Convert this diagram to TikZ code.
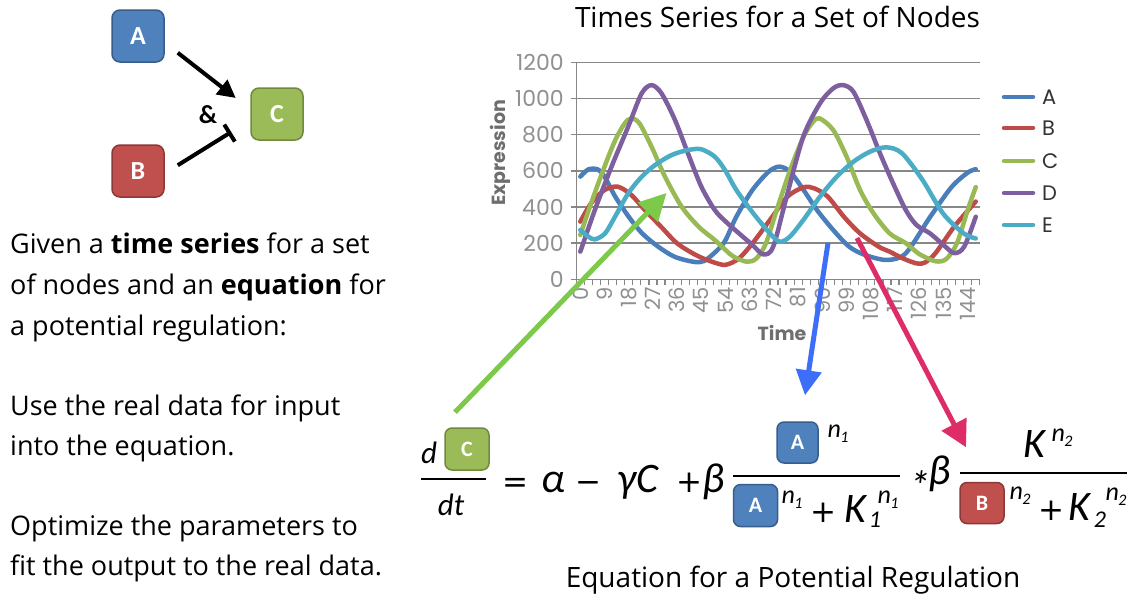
\documentclass[tikz,border=0pt]{standalone}
\usepackage{fontspec}
\setmainfont{Open Sans}
\newfontfamily\chartfont{Poppins}
\newfontfamily\eqfont{Carlito}
\newfontfamily\opfont{DejaVu Sans}
\usetikzlibrary{arrows.meta}
\definecolor{nA}{HTML}{4F81BD}\definecolor{nAd}{HTML}{385D8A}
\definecolor{nB}{HTML}{C0504D}\definecolor{nBd}{HTML}{8C3836}
\definecolor{nC}{HTML}{9BBB59}\definecolor{nCd}{HTML}{71893F}
\definecolor{sA}{HTML}{4A7EBB}
\definecolor{sB}{HTML}{BE4B48}
\definecolor{sC}{HTML}{98B954}
\definecolor{sD}{HTML}{7D5FA0}
\definecolor{sE}{HTML}{4BACC6}
\definecolor{gridc}{HTML}{878787}
\definecolor{labc}{HTML}{909090}
\definecolor{axlab}{HTML}{6E6E6E}
\definecolor{legc}{HTML}{333333}
\definecolor{arG}{HTML}{7DC94A}
\definecolor{arB}{HTML}{3D6EFA}
\definecolor{arP}{HTML}{DE2C66}
\newcommand\mynsub[1]{n\kern-0.5pt\raisebox{-5pt}{\fontsize{16}{16}\selectfont #1}}
\tikzset{
  netbox/.style={rounded corners=8pt, minimum size=52pt, draw, line width=1.5pt,
    font=\eqfont\bfseries\fontsize{26}{26}\selectfont, text=white, inner sep=0pt},
  eqbox/.style={rounded corners=7pt, draw, line width=1.5pt, minimum width=44pt, minimum height=42pt,
    font=\eqfont\bfseries\fontsize{22}{22}\selectfont, text=white, inner sep=0pt},
  actarrow/.style={line width=4pt, -{Triangle[length=18pt,width=18pt]}},
  inharrow/.style={line width=4pt, -{Bar[width=20pt]}},
  bigarrow/.style={line width=5pt, -{Triangle[length=27pt,width=27pt]}},
  body/.style={font=\fontsize{27}{27}\selectfont, anchor=base west, inner sep=0pt},
  ylab/.style={font=\chartfont\fontsize{22}{22}\selectfont, text=labc, anchor=east, inner sep=0pt},
  xlab/.style={font=\chartfont\fontsize{21}{21}\selectfont, text=labc, anchor=east, rotate=90, inner sep=0pt},
  legl/.style={line width=4.5pt, line cap=round},
  legt/.style={font=\chartfont\fontsize{21}{21}\selectfont, text=legc, anchor=west, inner sep=0pt},
  series/.style={line width=4.5pt, line join=round, line cap=round},
  eqt/.style={font=\eqfont\itshape\fontsize{42}{42}\selectfont, inner sep=0pt, anchor=base},
  eqop/.style={font=\opfont\fontsize{31}{31}\selectfont, inner sep=0pt, anchor=base},
  eqs/.style={font=\eqfont\itshape\fontsize{31}{31}\selectfont, inner sep=0pt, anchor=base},
  sup/.style={font=\eqfont\itshape\fontsize{26}{26}\selectfont, inner sep=0pt, anchor=base},
  subs/.style={font=\eqfont\itshape\fontsize{24}{24}\selectfont, inner sep=0pt, anchor=base},
  heading/.style={font=\fontsize{28}{28}\selectfont, anchor=base, inner sep=0pt}
}
\begin{document}
\begin{tikzpicture}[x=1pt,y=-1pt]
\useasboundingbox (0,0) rectangle (1140,595);
\fill[white] (0,0) rectangle (1140,595);

% ---------- network ----------
\node[netbox, fill=nA, draw=nAd] (A) at (138,36) {A};
\node[netbox, fill=nB, draw=nBd] (B) at (138,171) {B};
\node[netbox, fill=nC, draw=nCd] (C) at (277,114) {C};
\draw[actarrow] ([shift={(13,-10)}]A.south east) -- ([shift={(-14.5,-16)}]C.west);
\draw[inharrow] ([shift={(13,21)}]B.north east) -- ([shift={(-19,18)}]C.west);
\node[font=\eqfont\bfseries\fontsize{26}{26}\selectfont, inner sep=0pt] (amp) at (208,115) {\&};

% ---------- left text ----------
\node[body] (t1) at (10,253) {Given a \textbf{time series} for a set};
\node[body] (t2) at (10,294) {of nodes and an \textbf{equation} for};
\node[body] (t3) at (10,335) {a potential regulation:};
\node[body] (t4) at (10,415) {Use the real data for input};
\node[body] (t5) at (10,455) {into the equation.};
\node[body] (t6) at (10,535) {Optimize the parameters to};
\node[body] (t7) at (10,575) {fit the output to the real data.};

% ---------- chart ----------
\node[heading] (title) at (777.5,27) {Times Series for a Set of Nodes};
\begin{scope}[shift={(580.3,279.3)}, x=2.69pt, y=0.1808pt]
  \foreach \v in {200,400,...,1200} \draw[gridc, line width=1.5pt] (-1.5,\v) -- (148.5,\v);
  \foreach \v in {0,200,...,1200} {
    \draw[gridc, line width=1.5pt] (-3.5,\v) -- (-1.5,\v);
    \node[ylab] (yl\v) at (-6.1,\v) {\v};
  }
  \foreach \k in {0,...,50} \draw[gridc, line width=1.2pt] (-1.5+3*\k,0) -- (-1.5+3*\k,-33);
  \draw[gridc, line width=1.5pt] (-1.5,1200) -- (-1.5,0) -- (148.5,0);
  \foreach \t in {0,9,...,144} \node[xlab] (xl\t) at (\t,-42) {\t};
  % series
  \draw[series, sA] plot[smooth, tension=0.5] coordinates {(0,568) (3,608) (6.5,608) (9,568) (13,457) (18,346) (23,254) (29,180) (35,125) (42,97) (46,101) (51,162) (54,217) (58,346) (64,494) (70,595) (74,623) (78,595) (83,494) (88,383) (94,273) (100,180) (106,134) (114,107) (121,144) (130,344) (138,510) (144,590) (147,609)};
  \draw[series, sB] plot[smooth, tension=0.5] coordinates {(0,319) (4,420) (9,494) (14,512) (19,466) (24,383) (30,291) (36,199) (43,134) (49,97) (54,80) (59,116) (64,199) (70.5,328) (77,457) (83,509) (87,503) (92,457) (98,346) (104,254) (111,180) (115,153) (120,115) (125,88) (128,92) (132,144) (139,291) (147,430)};
  \draw[series, sC] plot[smooth, tension=0.5] coordinates {(0,245) (4,420) (9,623) (13,770) (16.5,862) (19,890) (22,862) (26.5,733) (31.5,567) (37.7,401) (44,291) (50,217) (54,162) (57,125) (62,97) (65.5,116) (69,199) (73,383) (78,604) (83,789) (86.6,872) (89,890) (94,826) (99,678) (104,494) (109,365) (115,254) (121,200) (126,140) (132,100) (136,112) (140,199) (144,383) (147,510)};
  \draw[series, sD] plot[smooth, tension=0.5] coordinates {(0,153) (5.4,383) (11.6,623) (17.8,844) (22.8,1028) (26.5,1074) (30.2,1028) (35.2,881) (40,697) (45,512) (50,383) (54,320) (59,254) (64,190) (68,138) (71.7,180) (76.7,457) (82.9,789) (89.1,973) (94,1056) (97.7,1074) (101.5,1038) (106.4,881) (111.4,697) (116,540) (121,383) (125,300) (130,254) (135,190) (139,145) (142.7,180) (147,346)};
  \draw[series, sE] plot[smooth, tension=0.5] coordinates {(0,273) (3,236) (5.4,221) (9.2,254) (12.9,346) (17.8,475) (22.8,567) (27.8,632) (33.9,687) (40,715) (45,719) (50,678) (53.8,604) (58,494) (64.3,365) (70.5,254) (74.2,208) (77.9,236) (82.9,328) (89.1,457) (95.3,567) (101.5,650) (107.7,706) (113.8,730) (119.6,697) (127.2,550) (134.8,365) (142.5,254) (147,226)};
\end{scope}
\node[font=\chartfont\bfseries\fontsize{19}{19}\selectfont, text=axlab, rotate=90, inner sep=0pt] (ylabel) at (500.5,153) {Expression};
\node[font=\chartfont\bfseries\fontsize{19}{19}\selectfont, text=axlab, inner sep=0pt] (xlabel) at (782,333) {Time};
% legend
\foreach \s/\y/\c in {A/97/sA, B/128/sB, C/161/sC, D/193/sD, E/225/sE} {
  \draw[legl, \c] (1004,\y) -- (1033,\y);
  \node[legt] (lg\s) at (1042,\y) {\s};
}

% ---------- equation ----------
\node[eqs] (eqd) at (429,463) {d};
\node[eqbox, fill=nC, draw=nCd] (eqC) at (467,449) {C};
\draw[line width=2pt] (421,479) -- (486,479);
\node[eqs] (eqdt) at (451,515) {dt};
\node[eqop] (eqeq) at (515,492) {=};
\node[eqt] (eqal) at (553,492) {α};
\node[eqop] (eqmi) at (588,492) {−};
\node[eqt] (eqga) at (627,492) {γ};
\node[eqt] (eqCc) at (647,492) {C};
\node[eqop] (eqpl) at (689,492) {+};
\node[eqt] (eqbe) at (714,492) {β};
\draw[line width=2pt] (733,475.7) -- (900,475.7);
\node[eqbox, fill=nA, draw=nAd, minimum width=41pt, minimum height=41pt] (numA) at (797.5,442.5) {A};
\node[sup] (numn) at (838,437) {\mynsub{1}};
\node[eqbox, fill=nA, draw=nAd] (denA) at (755.5,505.5) {A};
\node[sup] (denn) at (792,503) {\mynsub{1}};
\node[eqop] (dpl) at (823,522) {+};
\node[eqt] (dK) at (855,522) {K};
\node[subs] (dsub) at (875,527) {1};
\node[sup] (dsup) at (888,503) {\mynsub{1}};
\node[eqt, anchor=center] (eqst) at (920,486) {*};
\node[eqt] (eqbe2) at (940,484) {β};
\draw[line width=2pt] (960,473) -- (1127,473);
\node[eqt] (nK) at (1034,457) {K};
\node[sup] (nKs) at (1062,441) {\mynsub{2}};
\node[eqbox, fill=nB, draw=nBd, minimum height=41pt] (denB) at (982,503) {B};
\node[sup] (dBn) at (1020,499) {\mynsub{2}};
\node[eqop] (dpl2) at (1051,520) {+};
\node[eqt] (dK2) at (1079,520) {K};
\node[subs] (dsub2) at (1100,527) {2};
\node[sup] (dsup2) at (1116,500) {\mynsub{2}};
\node[heading] (caption) at (793,587) {Equation for a Potential Regulation};

% ---------- coloured arrows ----------
\coordinate (gtip) at (666.5,193);
\coordinate (btail) at (828,243);
\coordinate (ptail) at (857,238);
\draw[bigarrow, arG] ([shift={(-12,-15)}]eqC.north) -- (gtip);
\draw[bigarrow, arB, -{Triangle[length=25pt,width=25pt]}] (btail) -- ([shift={(7.5,-26)}]numA.north);
\draw[bigarrow, arP, -{Triangle[length=26pt,width=27pt]}] (ptail) -- ([shift={(-16,-34.5)}]denB.north);
\end{tikzpicture}
\end{document}
